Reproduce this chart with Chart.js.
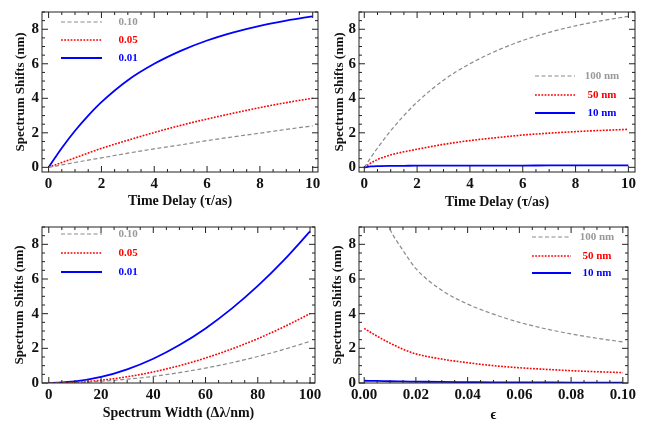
<!DOCTYPE html>
<html>
<head>
<meta charset="utf-8">
<title>Spectrum Shifts</title>
<script src="https://cdn.jsdelivr.net/npm/chart.js"></script>
<style>
  body { margin: 0; background: #fff; }
  canvas { position: absolute; }
</style>
</head>
<body>
<canvas id="delayEps" width="330" height="215" style="left:0;top:0"></canvas>
<canvas id="delayWidth" width="335" height="215" style="left:330px;top:0"></canvas>
<canvas id="widthEps" width="330" height="215" style="left:0;top:215px"></canvas>
<canvas id="epsWidth" width="335" height="215" style="left:330px;top:215px"></canvas>

<script>
// time delay (tau / as)
const delayX = [0, 0.25, 0.5, 1, 1.5, 2, 3, 4, 5, 6, 7, 8, 9, 10];
const delayTicks = [0, 2, 4, 6, 8, 10];

// panel 1: shift vs delay, for epsilon = 0.10 / 0.05 / 0.01
const delayEps010 = [0, 0.07, 0.14, 0.28, 0.42, 0.55, 0.82, 1.07, 1.3, 1.55, 1.77, 1.98, 2.2, 2.4];
const delayEps005 = [0, 0.14, 0.28, 0.55, 0.83, 1.1, 1.57, 2.02, 2.43, 2.8, 3.14, 3.46, 3.75, 4.0];
const delayEps001 = [0, 0.57, 1.12, 2.12, 3.0, 3.78, 5.05, 6.0, 6.75, 7.35, 7.82, 8.2, 8.5, 8.75];

// panel 2: shift vs delay, for width = 100 / 50 / 10 nm
const delayW100 = [0, 0.57, 1.12, 2.12, 3.0, 3.78, 5.05, 6.0, 6.75, 7.35, 7.82, 8.2, 8.5, 8.75];
const delayW50 = [0, 0.25, 0.45, 0.72, 0.9, 1.05, 1.33, 1.55, 1.72, 1.87, 1.98, 2.07, 2.14, 2.2];
const delayW10 = [0, 0.05, 0.07, 0.085, 0.09, 0.095, 0.1, 0.1, 0.105, 0.105, 0.11, 0.11, 0.11, 0.11];

// spectrum width (delta lambda / nm)
const widthX = [0, 10, 20, 30, 40, 50, 60, 70, 80, 90, 100];
const widthTicks = [0, 20, 40, 60, 80, 100];

// panel 3: shift vs width, for epsilon = 0.10 / 0.05 / 0.01
const widthEps010 = [0, 0.02, 0.1, 0.22, 0.38, 0.6, 0.86, 1.17, 1.53, 1.94, 2.4];
const widthEps005 = [0, 0.04, 0.16, 0.36, 0.64, 1.0, 1.44, 1.96, 2.56, 3.24, 4.0];
const widthEps001 = [0, 0.09, 0.35, 0.79, 1.4, 2.19, 3.15, 4.29, 5.6, 7.09, 8.75];

// epsilon
const epsX = [0, 0.005, 0.01, 0.015, 0.02, 0.03, 0.04, 0.05, 0.06, 0.07, 0.08, 0.09, 0.10];
const epsTicks = [0, 0.02, 0.04, 0.06, 0.08, 0.10];

// panel 4: shift vs epsilon, for width = 100 / 50 / 10 nm
const epsW100 = [null, 10.6, 8.85, 7.65, 6.6, 5.35, 4.55, 3.97, 3.5, 3.13, 2.83, 2.58, 2.37];
const epsW50 = [3.15, 2.7, 2.3, 1.95, 1.68, 1.38, 1.17, 1.0, 0.88, 0.79, 0.71, 0.65, 0.6];
const epsW10 = [0.13, 0.12, 0.1, 0.09, 0.08, 0.06, 0.05, 0.04, 0.035, 0.03, 0.025, 0.022, 0.02];

const shiftTicks = [0, 2, 4, 6, 8];

const serif = 'Liberation Serif, Times New Roman, serif';
const GRAY = '#8a8a8a', RED = '#ff0000', BLUE = '#0000ff';

function series(label, xs, ys, kind) {
  const styles = {
    gray: { borderColor: GRAY, borderWidth: 1.2, borderDash: [4, 2.5], textColor: '#999' },
    red:  { borderColor: RED, borderWidth: 1.6, borderDash: [1.8, 1.4], textColor: RED },
    blue: { borderColor: BLUE, borderWidth: 1.8, borderDash: [], textColor: BLUE }
  };
  return Object.assign({
    label: label,
    data: xs.map((x, i) => ({ x: x, y: ys[i] })),
    pointRadius: 0,
    fill: false,
    cubicInterpolationMode: 'monotone'
  }, styles[kind]);
}

// frame with inward major/minor ticks on all four sides
const framePlugin = {
  id: 'frame',
  afterDraw(chart) {
    const { ctx, chartArea: a, scales } = chart;
    ctx.save();
    ctx.strokeStyle = '#222';
    ctx.lineWidth = 1;
    ctx.setLineDash([]);
    ctx.strokeRect(a.left, a.top, a.right - a.left, a.bottom - a.top);
    const marks = (scale) => {
      const t = scale.ticks.map(k => k.value);
      const sub = (t[1] - t[0]) / 4;
      const out = [];
      for (let k = -8; k <= (t.length + 2) * 4; k++) {
        const v = t[0] + k * sub;
        if (v < scale.min - 1e-9 || v > scale.max + 1e-9) continue;
        out.push({ p: scale.getPixelForValue(v), major: k % 4 === 0 });
      }
      return out;
    };
    ctx.beginPath();
    marks(scales.x).forEach(m => {
      const len = m.major ? 6 : 3;
      ctx.moveTo(m.p, a.bottom); ctx.lineTo(m.p, a.bottom - len);
      ctx.moveTo(m.p, a.top); ctx.lineTo(m.p, a.top + len);
    });
    marks(scales.y).forEach(m => {
      const len = m.major ? 6 : 3;
      ctx.moveTo(a.left, m.p); ctx.lineTo(a.left + len, m.p);
      ctx.moveTo(a.right, m.p); ctx.lineTo(a.right - len, m.p);
    });
    ctx.stroke();
    ctx.restore();
  }
};

// legend drawn inside the plot like the original
const insideLegend = {
  id: 'insideLegend',
  afterDraw(chart, args, opts) {
    const ctx = chart.ctx;
    ctx.save();
    ctx.font = 'bold 11px ' + serif;
    ctx.textAlign = 'center';
    ctx.textBaseline = 'middle';
    chart.data.datasets.forEach((ds, i) => {
      const y = opts.rows[i];
      ctx.strokeStyle = ds.borderColor;
      ctx.lineWidth = ds.borderWidth;
      ctx.setLineDash(ds.borderDash);
      ctx.beginPath();
      ctx.moveTo(opts.lineX[0], y);
      ctx.lineTo(opts.lineX[1], y);
      ctx.stroke();
      ctx.fillStyle = ds.textColor;
      ctx.fillText(ds.label, opts.textX, y);
    });
    ctx.restore();
  }
};

function panel(id, datasets, p) {
  new Chart(document.getElementById(id), {
    type: 'line',
    data: { datasets: datasets },
    plugins: [framePlugin, insideLegend],
    options: {
      responsive: false,
      animation: false,
      layout: { padding: { left: 0, top: p.top, right: p.right, bottom: 0 } },
      plugins: {
        legend: { display: false },
        tooltip: { enabled: false },
        insideLegend: p.legend
      },
      scales: {
        x: {
          type: 'linear',
          min: p.xMin, max: p.xMax,
          afterBuildTicks: s => { s.ticks = p.xTicks.map(v => ({ value: v })); },
          afterFit: s => { s.height = p.xHeight; },
          grid: { display: false, drawTicks: false },
          border: { display: false },
          ticks: {
            padding: 3, color: '#111', maxRotation: 0,
            font: { family: serif, weight: 'bold', size: 15 },
            callback: p.xFormat
          },
          title: {
            display: true, text: p.xTitle, color: '#111',
            font: { family: serif, weight: 'bold', size: 14 },
            padding: { top: 0, bottom: p.xTitlePad }
          }
        },
        y: {
          type: 'linear',
          min: p.yMin, max: 9,
          afterBuildTicks: s => { s.ticks = shiftTicks.map(v => ({ value: v })); },
          afterFit: s => { s.width = p.yWidth; },
          grid: { display: false, drawTicks: false },
          border: { display: false },
          ticks: {
            padding: 3, color: '#111',
            font: { family: serif, weight: 'bold', size: 15 }
          },
          title: {
            display: true, text: 'Spectrum Shifts (nm)', color: '#111',
            font: { family: serif, weight: 'bold', size: 13 },
            padding: { top: p.yTitlePad, bottom: 0 }
          }
        }
      }
    }
  });
}

panel('delayEps', [
  series('0.10', delayX, delayEps010, 'gray'),
  series('0.05', delayX, delayEps005, 'red'),
  series('0.01', delayX, delayEps001, 'blue')
], {
  top: 3, right: 12, yWidth: 42, xHeight: 43,
  xMin: -0.25, xMax: 10.2, yMin: -0.27, xTicks: delayTicks,
  xFormat: v => v, xTitle: 'Time Delay (\u03c4/as)', xTitlePad: 5, yTitlePad: 13,
  legend: { lineX: [61, 102], textX: 128, rows: [22, 40, 58] }
});

panel('delayWidth', [
  series('100 nm', delayX, delayW100, 'gray'),
  series('50 nm', delayX, delayW50, 'red'),
  series('10 nm', delayX, delayW10, 'blue')
], {
  top: 3, right: 30, yWidth: 29, xHeight: 43,
  xMin: -0.2, xMax: 10.25, yMin: -0.27, xTicks: delayTicks,
  xFormat: v => v, xTitle: 'Time Delay (\u03c4/as)', xTitlePad: 4, yTitlePad: 2,
  legend: { lineX: [205, 245], textX: 272, rows: [76, 95, 113] }
});

panel('widthEps', [
  series('0.10', widthX, widthEps010, 'gray'),
  series('0.05', widthX, widthEps005, 'red'),
  series('0.01', widthX, widthEps001, 'blue')
], {
  top: 1, right: 15, yWidth: 42, xHeight: 47,
  xMin: -2.6, xMax: 101.9, yMin: 0, xTicks: widthTicks,
  xFormat: v => v, xTitle: 'Spectrum Width (\u0394\u03bb/nm)', xTitlePad: 8, yTitlePad: 12,
  legend: { lineX: [61, 102], textX: 128, rows: [19, 38, 57] }
});

panel('epsWidth', [
  series('100 nm', epsX, epsW100, 'gray'),
  series('50 nm', epsX, epsW50, 'red'),
  series('10 nm', epsX, epsW10, 'blue')
], {
  top: 2, right: 37, yWidth: 29, xHeight: 47,
  xMin: -0.002, xMax: 0.102, yMin: 0, xTicks: epsTicks,
  xFormat: v => v.toFixed(2), xTitle: '\u03f5', xTitlePad: 6, yTitlePad: 0,
  legend: { lineX: [202, 241], textX: 267, rows: [22, 41, 58] }
});
</script>
</body>
</html>
